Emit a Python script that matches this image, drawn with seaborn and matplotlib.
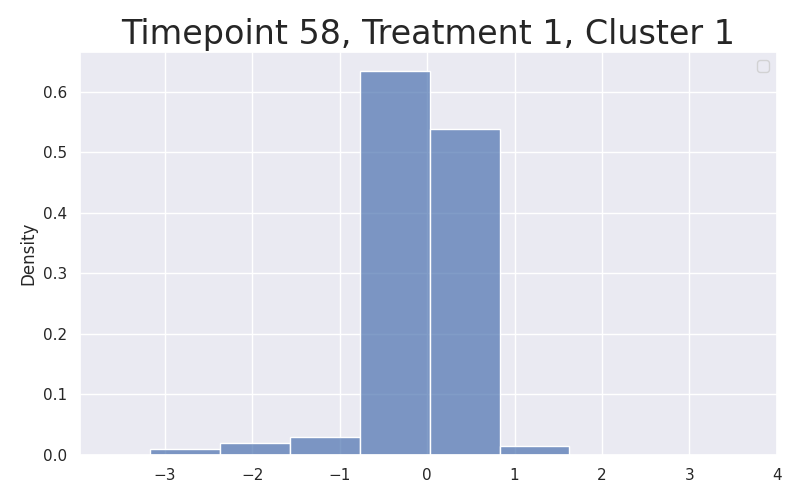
import numpy as np
import matplotlib
matplotlib.use("Agg")
import matplotlib.pyplot as plt
import seaborn as sns

# bin edges and density heights
bin_edges = [-3.166, -2.367, -1.568, -0.769, 0.030, 0.829, 1.628]
densities = [0.0099, 0.019, 0.0298, 0.634, 0.539, 0.0149]
title = "Timepoint 58, Treatment 1, Cluster 1"

sns.set_theme()

centers = [(a + b) / 2 for a, b in zip(bin_edges[:-1], bin_edges[1:])]

fig, ax = plt.subplots(figsize=(8, 5), dpi=100)
sns.histplot(x=centers, weights=densities, bins=bin_edges, stat="count",
             alpha=0.7, ax=ax)
ax.set_ylabel("Density")
ax.set_xlabel("")
ax.set_xlim(-3.97, 4)
ax.set_title(title, fontsize=24)
ax.legend()

fig.subplots_adjust(left=0.1, right=0.971, top=0.896, bottom=0.09)
fig.savefig("out.png", dpi=100)
